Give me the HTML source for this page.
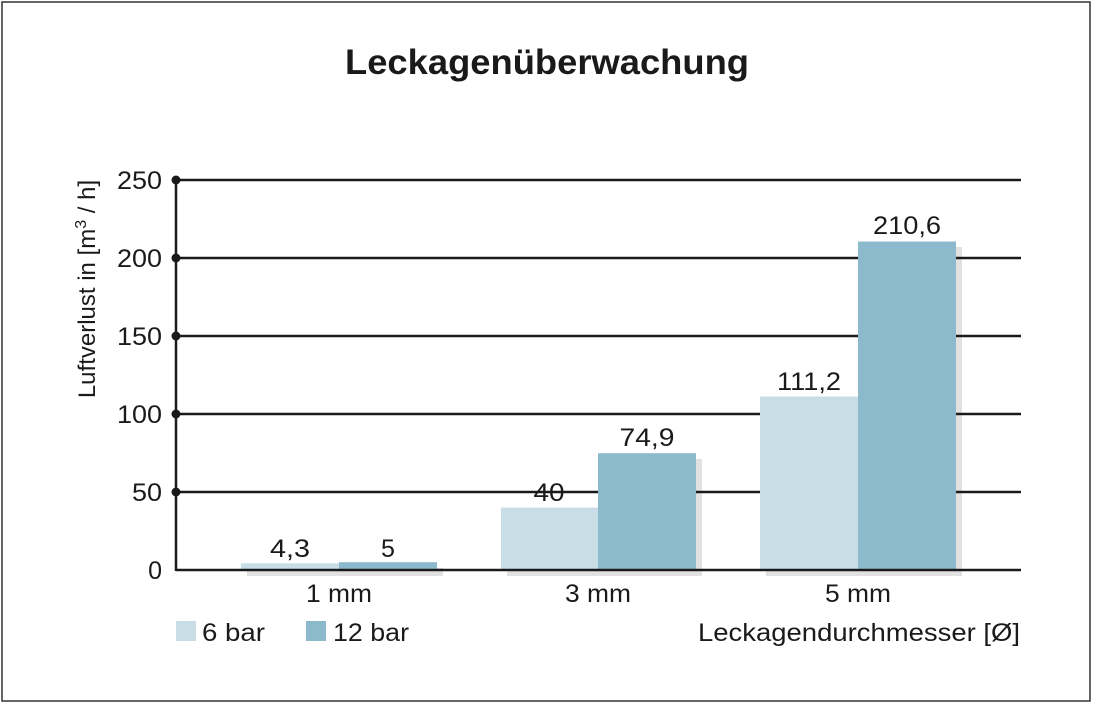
<!DOCTYPE html>
<html><head><meta charset="utf-8"><style>
html,body{margin:0;padding:0;background:#fff;}
svg{display:block;}
text{font-family:"Liberation Sans",Arial,sans-serif;fill:#1a1a1a;}
</style></head><body>
<svg width="1093" height="704" viewBox="0 0 1093 704">
<rect x="2" y="2" width="1088" height="699" fill="#fff" stroke="#333" stroke-width="1.5"/>
<text x="547" y="74" font-size="35" font-weight="bold" text-anchor="middle" textLength="404" lengthAdjust="spacingAndGlyphs">Leckagenüberwachung</text>
<g fill="#e1e1e1">
<rect x="247" y="569" width="98" height="7"/>
<rect x="345" y="568" width="98" height="8"/>
<rect x="507" y="513" width="98" height="63"/>
<rect x="604" y="459" width="98" height="117"/>
<rect x="766" y="402" width="98" height="174"/>
<rect x="864" y="247" width="98" height="329"/>
</g>
<g stroke="#1a1a1a" stroke-width="2.5">
<line x1="176" y1="180" x2="1021" y2="180"/>
<line x1="176" y1="258" x2="1021" y2="258"/>
<line x1="176" y1="336" x2="1021" y2="336"/>
<line x1="176" y1="414" x2="1021" y2="414"/>
<line x1="176" y1="492" x2="1021" y2="492"/>
<line x1="176" y1="179" x2="176" y2="571"/>
</g>
<g fill="#1a1a1a">
<circle cx="176" cy="180" r="4.5"/><circle cx="176" cy="258" r="4.5"/><circle cx="176" cy="336" r="4.5"/><circle cx="176" cy="414" r="4.5"/><circle cx="176" cy="492" r="4.5"/>
</g>
<g fill="#c9dde7">
<rect x="241" y="563.3" width="98" height="6.7"/>
<rect x="501" y="507.6" width="97" height="62.4"/>
<rect x="760" y="396.5" width="98" height="173.5"/>
</g>
<g fill="#8db9cc">
<rect x="339" y="562.2" width="98" height="7.8"/>
<rect x="598" y="453.2" width="98" height="116.8"/>
<rect x="858" y="241.5" width="98" height="328.5"/>
</g>
<line x1="176" y1="570" x2="1021" y2="570" stroke="#1a1a1a" stroke-width="2.5"/>
<g font-size="25" text-anchor="middle">
<text x="290" y="557" textLength="40" lengthAdjust="spacingAndGlyphs">4,3</text>
<text x="388" y="557">5</text>
<text x="549" y="501" textLength="31" lengthAdjust="spacingAndGlyphs">40</text>
<text x="647" y="446" textLength="55" lengthAdjust="spacingAndGlyphs">74,9</text>
<text x="809" y="390" textLength="64" lengthAdjust="spacingAndGlyphs">111,2</text>
<text x="907" y="234" textLength="68" lengthAdjust="spacingAndGlyphs">210,6</text>
</g>
<g font-size="25" text-anchor="end">
<text x="162" y="189" textLength="45" lengthAdjust="spacingAndGlyphs">250</text>
<text x="162" y="267" textLength="45" lengthAdjust="spacingAndGlyphs">200</text>
<text x="162" y="345" textLength="45" lengthAdjust="spacingAndGlyphs">150</text>
<text x="162" y="423" textLength="45" lengthAdjust="spacingAndGlyphs">100</text>
<text x="162" y="501" textLength="30" lengthAdjust="spacingAndGlyphs">50</text>
<text x="162" y="579">0</text>
</g>
<text transform="translate(95,289) rotate(-90)" font-size="24" text-anchor="middle">Luftverlust in [m<tspan font-size="16" dy="-9">3</tspan><tspan dy="9"> / h]</tspan></text>
<g font-size="25" text-anchor="middle">
<text x="339" y="602" textLength="66" lengthAdjust="spacingAndGlyphs">1 mm</text>
<text x="598" y="602" textLength="66" lengthAdjust="spacingAndGlyphs">3 mm</text>
<text x="858" y="602" textLength="66" lengthAdjust="spacingAndGlyphs">5 mm</text>
</g>
<rect x="176" y="621" width="20" height="20" fill="#c9dde7"/>
<text x="202" y="641" font-size="25" textLength="63" lengthAdjust="spacingAndGlyphs">6 bar</text>
<rect x="306" y="621" width="20" height="20" fill="#8db9cc"/>
<text x="333" y="641" font-size="25" textLength="76" lengthAdjust="spacingAndGlyphs">12 bar</text>
<text x="1020" y="641" font-size="25" text-anchor="end" textLength="322" lengthAdjust="spacingAndGlyphs">Leckagendurchmesser [Ø]</text>
</svg>
</body></html>
